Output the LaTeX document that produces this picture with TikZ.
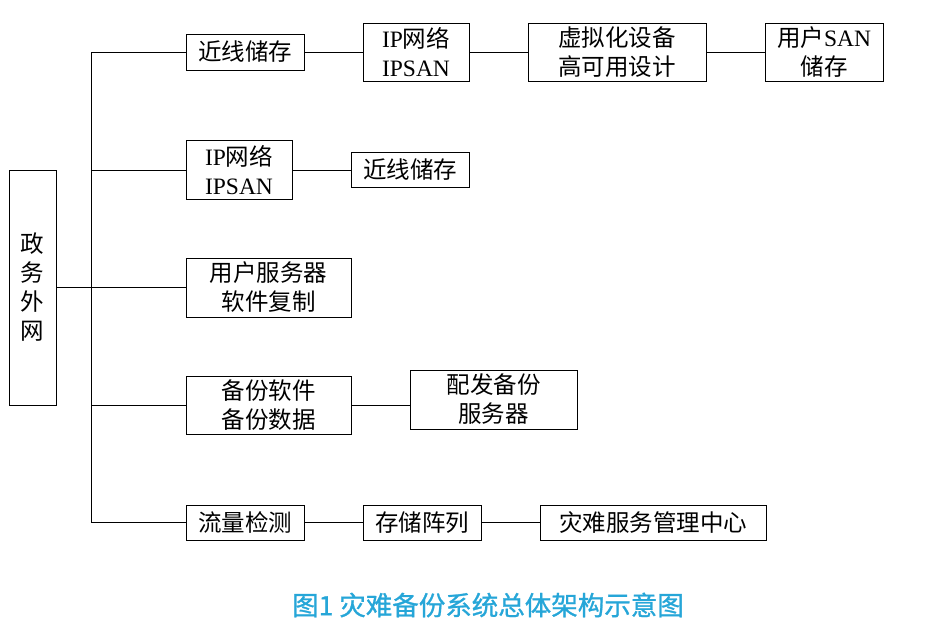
\documentclass[tikz,border=0pt]{standalone}
\usepackage{fontspec}
\setmainfont{Liberation Serif}
\newfontfamily\cjk{Noto Sans CJK SC}
\newfontfamily\cjkb[FakeBold=1]{Noto Sans CJK SC}
\begin{document}
\begin{tikzpicture}[x=1pt,y=-1pt,
  bx/.style={draw=black,line width=1pt,inner sep=0pt,align=center,
    font=\fontsize{23.5}{29}\selectfont},
  ln/.style={draw=black,line width=1pt}]
\useasboundingbox (0,0) rectangle (940,641);
\fill[white] (0,0) rectangle (940,641);
% left box
\node[bx,minimum width=47pt,minimum height=235pt] (root) at (32.5,287.5)
  {\cjk 政\\ \cjk 务\\ \cjk 外\\ \cjk 网};
% row 1
\node[bx,minimum width=118pt,minimum height=36pt] (a1) at (245,52) {\cjk 近线储存};
\node[bx,minimum width=106pt,minimum height=58pt] (a2) at (416,52) {IP{\cjk 网络}\\IPSAN};
\node[bx,minimum width=178pt,minimum height=58pt] (a3) at (617,52) {\cjk 虚拟化设备\\ \cjk 高可用设计};
\node[bx,minimum width=118pt,minimum height=58pt] (a4) at (824,52) {{\cjk 用户}SAN\\ \cjk 储存};
% row 2
\node[bx,minimum width=106pt,minimum height=59pt] (b1) at (239,170) {IP{\cjk 网络}\\IPSAN};
\node[bx,minimum width=118pt,minimum height=35pt] (b2) at (410,170) {\cjk 近线储存};
% row 3
\node[bx,minimum width=165pt,minimum height=59pt] (c1) at (268.5,287.5) {\cjk 用户服务器\\ \cjk 软件复制};
% row 4
\node[bx,minimum width=165pt,minimum height=58pt] (d1) at (268.5,405) {\cjk 备份软件\\ \cjk 备份数据};
\node[bx,minimum width=167pt,minimum height=59pt] (d2) at (493.5,399.5) {\cjk 配发备份\\ \cjk 服务器};
% row 5
\node[bx,minimum width=118pt,minimum height=35pt] (e1) at (245,522.5) {\cjk 流量检测};
\node[bx,minimum width=118pt,minimum height=35pt] (e2) at (422,522.5) {\cjk 存储阵列};
\node[bx,minimum width=226pt,minimum height=35pt] (e3) at (653,522.5) {\cjk 灾难服务管理中心};
% trunk
\coordinate (tk) at (91,287.5);
\coordinate (tt) at (91,52);
\coordinate (tb) at (91,522.5);
\draw[ln] (root.east) -- (tk);
\draw[ln] (tt) -- (tb);
\draw[ln] (tt) -- (a1.west);
\draw[ln] (91,170) -- (b1.west);
\draw[ln] (tk) -- (c1.west);
\draw[ln] (91,405) -- (d1.west);
\draw[ln] (tb) -- (e1.west);
\draw[ln] (a1) -- (a2);
\draw[ln] (a2) -- (a3);
\draw[ln] (a3) -- (a4);
\draw[ln] (b1) -- (b2);
\draw[ln] (d1.east) -- (d2.west |- d1.east);
\draw[ln] (e1) -- (e2);
\draw[ln] (e2) -- (e3);
% caption
\node[text={rgb,255:red,38;green,166;blue,216},font=\fontsize{26.5}{30}\selectfont\cjkb] (cap) at (488,605) {图1 灾难备份系统总体架构示意图};
\end{tikzpicture}
\end{document}
